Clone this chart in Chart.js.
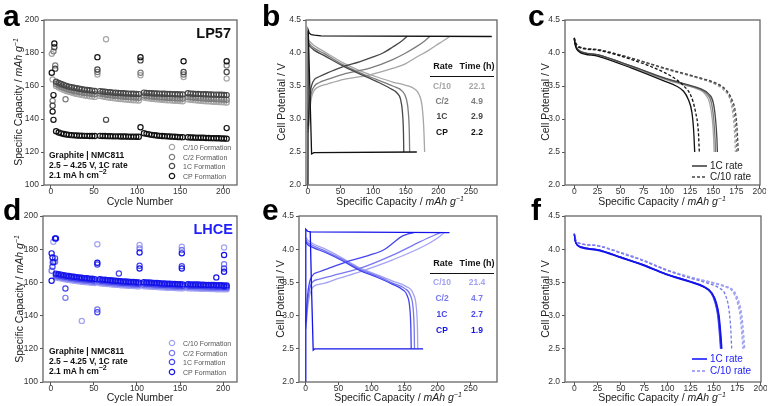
<!DOCTYPE html>
<html>
<head>
<meta charset="utf-8">
<script src="https://cdn.jsdelivr.net/npm/chart.js@4.4.1/dist/chart.umd.min.js"></script>
<style>
body { margin: 0; background: #fff; font-family: "Liberation Sans", Arial, sans-serif; }
#fig { position: relative; width: 770px; height: 406px; overflow: hidden; }
.pane { position: absolute; }
.t { position: absolute; white-space: nowrap; color: #222; line-height: 1; }
.yt { transform: translate(-50%, -50%) rotate(-90deg); font-size: 10.5px; }
.xt { transform: translate(-50%, -50%); font-size: 10.5px; }
.t sup { font-size: 7px; vertical-align: 4px; line-height: 0; }
.lab { font-weight: bold; font-size: 30px; color: #000; }
.ann { font-weight: bold; font-size: 8.5px; color: #111; transform: translateY(-50%); }
.leg { font-size: 7px; color: #555; transform: translateY(-50%); }
.big { font-weight: bold; font-size: 14.5px; transform: translate(-100%, -50%); }
.tb { font-weight: bold; font-size: 8.5px; transform: translate(-50%, -50%); }
.rl { font-size: 10px; color: #333; transform: translateY(-50%); }
.rule { position: absolute; height: 0; border-top: 1.5px solid #111; }
svg.mk { position: absolute; overflow: visible; }
</style>
</head>
<body>
<div id="fig">
  <div class="pane" id="pa"></div>
  <div class="pane" id="pb"></div>
  <div class="pane" id="pc"></div>
  <div class="pane" id="pd"></div>
  <div class="pane" id="pe"></div>
  <div class="pane" id="pf"></div>
  <div id="over"></div>
</div>
<script>
// ---- panel a / d : cycling data (cycle number vs capacity) ----
var bandCycles = [6,9,12,15,18,21,24,27,30,33,36,39,42,45,48,51,
  57,60,63,66,69,72,75,78,81,84,87,90,93,96,99,102,
  108,111,114,117,120,123,126,129,132,135,138,141,144,147,150,153,
  159,162,165,168,171,174,177,180,183,186,189,192,195,198,201,204];

var lp1CBand = [162.6,161.9,161.2,160.6,160.1,159.6,159.2,158.9,158.6,158.3,158.0,157.8,157.6,157.4,157.2,157.0,
  156.9,156.7,156.5,156.3,156.2,156.0,155.9,155.8,155.7,155.6,155.5,155.4,155.3,155.3,155.2,155.1,
  156.0,155.8,155.7,155.6,155.5,155.5,155.4,155.3,155.3,155.2,155.2,155.1,155.0,155.0,154.9,154.9,
  155.6,155.4,155.3,155.2,155.2,155.1,155.0,155.0,154.9,154.9,154.8,154.8,154.7,154.7,154.6,154.5];
var lpC2Band = [161.2,160.4,159.6,158.9,158.3,157.8,157.4,157.0,156.7,156.4,156.1,155.8,155.6,155.4,155.2,155.0,
  155.4,155.1,154.8,154.6,154.4,154.2,154.0,153.9,153.7,153.6,153.4,153.3,153.2,153.1,153.0,152.9,
  154.2,154.0,153.8,153.6,153.5,153.3,153.2,153.1,153.0,152.9,152.8,152.7,152.6,152.5,152.5,152.4,
  153.4,153.2,153.0,152.9,152.7,152.6,152.5,152.4,152.3,152.2,152.1,152.0,151.9,151.8,151.8,151.7];
var lpC10Band = [160.0,159.1,158.3,157.6,157.0,156.5,156.0,155.6,155.2,154.9,154.6,154.3,154.0,153.8,153.6,153.4,
  154.0,153.7,153.4,153.1,152.9,152.7,152.5,152.3,152.1,151.9,151.8,151.6,151.5,151.4,151.3,151.2,
  153.0,152.7,152.5,152.3,152.1,151.9,151.8,151.6,151.5,151.4,151.3,151.2,151.1,151.0,150.9,150.8,
  151.9,151.7,151.5,151.3,151.2,151.0,150.9,150.8,150.7,150.6,150.5,150.4,150.3,150.2,150.1,150.0];
var lpCPBand = [132.6,131.8,131.3,130.9,130.6,130.4,130.2,130.1,130.0,129.9,129.9,129.8,129.8,129.7,129.7,129.7,
  129.8,129.7,129.7,129.6,129.6,129.5,129.5,129.5,129.4,129.4,129.4,129.3,129.3,129.3,129.2,129.2,
  131.4,131.0,130.7,130.4,130.2,130.0,129.8,129.7,129.6,129.5,129.4,129.3,129.2,129.1,129.0,129.0,
  128.9,128.8,128.8,128.7,128.7,128.6,128.6,128.5,128.5,128.4,128.4,128.3,128.3,128.2,128.2,128.1];

var lpC10Extra = [[1,179.5],[2,164],[64,188.3],[54,167],[104,166.5],[154,165.5],[204,164.5]];
var lpC2Extra = [[3,181],[5,172.5],[2,151],[17,152],[54,168.5],[104,168],[154,167],[204,172.5]];
var lp1CExtra = [[4,183.5],[5,170.5],[2,148],[54,170],[64,139.5],[104,175.5],[154,168.5],[204,168.5]];
var lpCPExtra = [[1,168],[4,185.8],[2,144.5],[3,154.5],[3,139.5],[54,177.5],[104,177.5],[104,135],[154,175],[204,175],[204,134.5]];

var lhCPBand = [165.3,165.0,164.7,164.4,164.1,163.9,163.6,163.4,163.2,163.0,162.8,162.6,162.5,162.3,162.2,162.0,
  161.9,161.7,161.6,161.4,161.3,161.1,161.0,160.9,160.7,160.6,160.5,160.4,160.3,160.2,160.1,160.0,
  160.1,160.0,159.9,159.8,159.7,159.6,159.5,159.4,159.3,159.2,159.2,159.1,159.0,158.9,158.9,158.8,
  158.9,158.8,158.8,158.7,158.7,158.6,158.6,158.5,158.5,158.4,158.4,158.3,158.3,158.3,158.2,158.2];
var lh1CBand = [164.6,164.2,163.9,163.6,163.3,163.1,162.8,162.6,162.4,162.2,162.0,161.8,161.7,161.5,161.4,161.2,
  161.1,160.9,160.8,160.6,160.5,160.3,160.2,160.1,159.9,159.8,159.7,159.6,159.5,159.4,159.3,159.2,
  159.3,159.2,159.1,159.0,158.9,158.8,158.7,158.6,158.5,158.4,158.4,158.3,158.2,158.1,158.1,158.0,
  158.1,158.0,158.0,157.9,157.9,157.8,157.8,157.7,157.7,157.6,157.6,157.5,157.5,157.5,157.4,157.4];
var lhC2Band = [163.7,163.4,163.1,162.8,162.5,162.3,162.0,161.8,161.6,161.4,161.2,161.0,160.9,160.7,160.6,160.4,
  160.3,160.1,160.0,159.8,159.7,159.5,159.4,159.3,159.1,159.0,158.9,158.8,158.7,158.6,158.5,158.4,
  158.5,158.4,158.3,158.2,158.1,158.0,157.9,157.8,157.7,157.6,157.6,157.5,157.4,157.3,157.3,157.2,
  157.3,157.2,157.2,157.1,157.1,157.0,157.0,156.9,156.9,156.8,156.8,156.7,156.7,156.7,156.6,156.6];
var lhC10Band = [162.9,162.6,162.3,162.0,161.7,161.5,161.2,161.0,160.8,160.6,160.4,160.2,160.1,159.9,159.8,159.6,
  159.5,159.3,159.2,159.0,158.9,158.7,158.6,158.5,158.3,158.2,158.1,158.0,157.9,157.8,157.7,157.6,
  157.7,157.6,157.5,157.4,157.3,157.2,157.1,157.0,156.9,156.8,156.8,156.7,156.6,156.5,156.5,156.4,
  156.5,156.4,156.4,156.3,156.3,156.2,156.2,156.1,156.1,156.0,156.0,155.9,155.9,155.9,155.8,155.8];

var lhC10Extra = [[3,184.5],[2,172],[36,136.8],[54,183],[103,182.5],[152,181.5],[201,181]];
var lhC2Extra = [[1,167],[5,172.5],[17,150.7],[54,143.7],[103,180.5],[152,179.5],[201,171]];
var lh1CExtra = [[2,169.4],[5,174.5],[17,156.3],[54,170.8],[54,142],[79,165.4],[103,170],[152,169.8],[201,168.4]];
var lhCPExtra = [[1,177.5],[2,175],[3,172.2],[1,161],[5,186.5],[6,186.5],[54,171.8],[103,178],[103,168.4],
  [152,177.5],[152,168.4],[192,163],[201,176.5],[201,166.4],[201,157.7]];

// ---- panel b / e : formation voltage curves [capacity, V] ----
var bChgC10 = [[0.5,2.8],[3,3.15],[6,3.35],[10,3.44],[17,3.49],[30,3.53],[55,3.6],[95,3.67],[131,3.77],[150,3.84],[167,3.94],[185,4.04],[202,4.15],[213,4.22],[217,4.25]];
var bChgC2 = [[0.5,2.85],[3,3.25],[6,3.42],[10,3.5],[17,3.55],[30,3.6],[55,3.68],[95,3.77],[130,3.9],[150,4.0],[167,4.1],[180,4.19],[187,4.25]];
var bChg1C = [[0.5,2.9],[3,3.35],[6,3.52],[10,3.6],[17,3.64],[30,3.7],[50,3.78],[80,3.87],[100,3.94],[115,4.0],[130,4.09],[145,4.19],[152,4.25]];
var bChgCP = [[0,2.0],[0.3,4.35],[2,4.3],[5,4.28],[10,4.27],[20,4.26],[282,4.25]];
var bDisC10 = [[0.5,4.21],[3,4.17],[10,4.11],[25,4.02],[54,3.85],[80,3.73],[105,3.64],[130,3.56],[150,3.51],[163,3.46],[170,3.38],[175,3.2],[177.5,2.9],[179,2.5]];
var bDisC2 = [[0.5,4.17],[3,4.13],[10,4.07],[25,3.99],[54,3.82],[80,3.7],[105,3.6],[130,3.5],[145,3.42],[151,3.3],[154,3.1],[155.5,2.8],[156,2.5]];
var bDis1C = [[0.5,4.14],[3,4.1],[10,4.04],[25,3.96],[54,3.8],[80,3.68],[105,3.57],[125,3.47],[137,3.39],[142,3.3],[145,3.1],[146.5,2.8],[147,2.5]];
var bDisCP = [[0.5,4.33],[5.6,2.47],[9,2.49],[167,2.5]];

var eChgC10 = [[0.5,2.8],[3,3.1],[6,3.3],[12,3.44],[26,3.48],[50,3.56],[82,3.66],[132,3.84],[178,4.04],[200,4.17],[210,4.25]];
var eChgC2 = [[0.5,2.85],[3,3.2],[6,3.4],[10,3.5],[21,3.55],[40,3.6],[82,3.71],[132,3.91],[173,4.11],[195,4.21],[205,4.25]];
var eChg1C = [[0.5,2.9],[3,3.3],[6,3.5],[10,3.6],[21,3.66],[40,3.73],[62,3.81],[97,3.91],[120,4.0],[132,4.09],[147,4.2],[155,4.23],[164,4.25]];
var eChgCP = [[0,2.0],[0.3,4.3],[3,4.27],[7,4.26],[218,4.25]];
var eDisC10 = [[0.5,4.18],[3,4.14],[10,4.09],[30,4.0],[55,3.87],[82,3.72],[110,3.61],[132,3.52],[152,3.44],[163,3.33],[168,3.1],[169.5,2.8],[170,2.5]];
var eDisC2 = [[0.5,4.14],[3,4.1],[10,4.06],[30,3.97],[55,3.85],[82,3.7],[110,3.59],[132,3.49],[150,3.41],[159,3.3],[163,3.1],[164.5,2.8],[165,2.5]];
var eDis1C = [[0.5,4.11],[3,4.07],[10,4.03],[30,3.95],[55,3.83],[82,3.68],[110,3.57],[132,3.47],[147,3.39],[154,3.3],[158,3.1],[159.5,2.8],[160,2.5]];
var eDisCP = [[7,4.27],[9,3.4],[11.5,2.48],[14,2.5],[178,2.5]];

// ---- panel c / f : discharge at 1C (solid) and C/10 (dashed) ----
var cSolidC10 = [[0,4.22],[1,4.14],[3,4.07],[6,4.03],[26,3.97],[62,3.79],[98,3.6],[120,3.51],[134,3.45],[141,3.38],[146,3.25],[149,3.0],[150.5,2.7],[151,2.5]];
var cSolidC2 = [[0,4.22],[1,4.14],[3,4.07],[6,4.03],[26,3.97],[62,3.8],[98,3.61],[120,3.52],[134,3.46],[143,3.38],[148,3.25],[150.5,3.0],[152,2.7],[152.5,2.5]];
var cSolid1C = [[0,4.22],[1,4.14],[3,4.07],[6,4.03],[26,3.97],[62,3.8],[98,3.62],[120,3.53],[136,3.46],[145,3.38],[150,3.25],[152.5,3.0],[154,2.7],[154.5,2.5]];
var cSolidCP = [[0,4.21],[1,4.12],[3,4.05],[6,4.01],[26,3.95],[62,3.77],[98,3.57],[110,3.5],[118,3.42],[123,3.3],[127,3.1],[129,2.8],[130,2.5]];
var cDashC10 = [[0,4.23],[1,4.17],[3,4.12],[6,4.09],[26,4.05],[62,3.92],[98,3.76],[134,3.62],[150,3.54],[162,3.43],[168,3.3],[171,3.1],[173,2.8],[174,2.5]];
var cDashC2 = [[0,4.23],[1,4.17],[3,4.12],[6,4.09],[26,4.05],[62,3.92],[98,3.76],[134,3.62],[150,3.55],[163,3.44],[169,3.3],[172.5,3.1],[174.5,2.8],[175.5,2.5]];
var cDash1C = [[0,4.23],[1,4.17],[3,4.12],[6,4.09],[26,4.05],[62,3.92],[98,3.77],[134,3.63],[152,3.55],[164,3.44],[170,3.3],[174,3.1],[176,2.8],[177,2.5]];
var cDashCP = [[0,4.23],[1,4.16],[3,4.11],[6,4.08],[26,4.04],[62,3.9],[98,3.7],[110,3.6],[119,3.49],[126,3.35],[131,3.1],[134,2.8],[135,2.5]];

var fSolidC10 = [[0,4.23],[1,4.13],[3,4.07],[8,4.03],[26,3.99],[50,3.88],[73,3.77],[98,3.63],[123,3.52],[138,3.44],[147,3.34],[151,3.2],[154,3.0],[156,2.7],[157,2.5]];
var fSolidC2 = [[0,4.23],[1,4.13],[3,4.07],[8,4.03],[26,3.99],[50,3.88],[73,3.77],[98,3.63],[123,3.52],[138,3.44],[147,3.34],[151.5,3.2],[154.5,3.0],[156.5,2.7],[157.5,2.5]];
var fSolid1C = [[0,4.23],[1,4.13],[3,4.07],[8,4.03],[26,3.99],[50,3.88],[73,3.77],[98,3.63],[123,3.52],[139,3.44],[148,3.34],[152,3.2],[155,3.0],[157,2.7],[158,2.5]];
var fSolidCP = [[0,4.22],[1,4.12],[3,4.06],[8,4.02],[26,3.98],[50,3.87],[73,3.76],[98,3.62],[123,3.51],[139,3.43],[148,3.33],[152.5,3.2],[155.5,3.0],[157.5,2.7],[158.5,2.5]];
var fDashC10 = [[0,4.24],[1,4.16],[3,4.11],[8,4.08],[26,4.05],[50,3.95],[73,3.84],[98,3.69],[123,3.58],[145,3.5],[160,3.44],[170,3.36],[175,3.2],[178,3.0],[180,2.7],[181,2.5]];
var fDashC2 = [[0,4.24],[1,4.16],[3,4.11],[8,4.08],[26,4.05],[50,3.95],[73,3.84],[98,3.69],[123,3.58],[145,3.51],[160,3.45],[171,3.36],[176,3.2],[179,3.0],[181,2.7],[182,2.5]];
var fDash1C = [[0,4.24],[1,4.16],[3,4.11],[8,4.08],[26,4.05],[50,3.95],[73,3.84],[98,3.7],[123,3.59],[145,3.51],[161,3.45],[172,3.36],[177,3.2],[180,3.0],[182,2.7],[183,2.5]];
var fDashCP = [[0,4.24],[1,4.16],[3,4.11],[8,4.08],[26,4.05],[50,3.94],[73,3.83],[98,3.69],[123,3.57],[145,3.48],[155,3.42],[162,3.32],[166,3.1],[168,2.8],[169,2.5]];

// ---- ticks ----
var cycleTicks = [0, 50, 100, 150, 200];
var capTicks = [100, 120, 140, 160, 180, 200];
var capXTicks = [0, 50, 100, 150, 200, 250];
var disXTicks = [0, 25, 50, 75, 100, 125, 150, 175, 200];
var voltTicks = [2.0, 2.5, 3.0, 3.5, 4.0, 4.5];

var grayCols = { c10: '#a6a6a6', c2: '#7c7c7c', c1: '#474747', cp: '#111111' };
var blueCols = { c10: '#a3a3f4', c2: '#7878f0', c1: '#4444ee', cp: '#1414ea' };

var FONT = '"Liberation Sans", Arial, sans-serif';

function zip(xs, ys) {
    return xs.map(function (x, i) { return { x: x, y: ys[i] }; });
}
function pairs(arr) {
    return arr.map(function (p) { return { x: p[0], y: p[1] }; });
}

function pts(band, extra, color) {
    return {
        data: zip(bandCycles, band).concat(pairs(extra)),
        showLine: false,
        pointRadius: 2.6,
        pointBorderWidth: 1.2,
        pointBackgroundColor: 'rgba(0,0,0,0)',
        pointBorderColor: color,
        borderColor: color
    };
}
function curve(arr, color, dashed, straight) {
    return {
        data: pairs(arr),
        showLine: true,
        pointRadius: 0,
        borderColor: color,
        borderWidth: 1.3,
        borderDash: dashed ? [3, 2] : [],
        cubicInterpolationMode: straight ? 'default' : 'monotone',
        tension: 0
    };
}

var framePlugin = {
    id: 'frame',
    afterDraw: function (chart) {
        var a = chart.chartArea, ctx = chart.ctx;
        ctx.save();
        ctx.strokeStyle = '#666';
        ctx.lineWidth = 1.3;
        ctx.strokeRect(a.left, a.top, a.right - a.left, a.bottom - a.top);
        ctx.restore();
    }
};

function makeChart(id, box, xr, yr, xTicks, yTicks, yDec, datasets) {
    var PL = 44, PT = 8, PR = 6, PB = 16;
    var div = document.getElementById(id);
    div.style.left = (box[0] - PL) + 'px';
    div.style.top = (box[1] - PT) + 'px';
    div.style.width = (box[2] - box[0] + PL + PR) + 'px';
    div.style.height = (box[3] - box[1] + PT + PB) + 'px';
    var cv = document.createElement('canvas');
    div.appendChild(cv);
    var tickFont = { family: FONT, size: 8.5 };
    return new Chart(cv, {
        type: 'scatter',
        data: { datasets: datasets },
        plugins: [framePlugin],
        options: {
            responsive: true,
            maintainAspectRatio: false,
            animation: false,
            layout: { padding: { left: 0, top: PT, right: PR, bottom: 0 } },
            plugins: { legend: { display: false }, tooltip: { enabled: false } },
            scales: {
                x: {
                    type: 'linear', min: xr[0], max: xr[1],
                    afterBuildTicks: function (s) { s.ticks = xTicks.map(function (v) { return { value: v }; }); },
                    afterFit: function (s) { s.height = PB; },
                    ticks: { font: tickFont, color: '#333', padding: -1, maxRotation: 0, autoSkip: false },
                    grid: { drawOnChartArea: false, tickLength: 3, color: '#555' },
                    border: { display: false }
                },
                y: {
                    type: 'linear', min: yr[0], max: yr[1],
                    afterBuildTicks: function (s) { s.ticks = yTicks.map(function (v) { return { value: v }; }); },
                    afterFit: function (s) { s.width = PL; },
                    ticks: {
                        font: tickFont, color: '#333', padding: 2, autoSkip: false,
                        callback: function (v) { return Number(v).toFixed(yDec); }
                    },
                    grid: { drawOnChartArea: false, tickLength: 3, color: '#555' },
                    border: { display: false }
                }
            }
        }
    });
}

var g = grayCols, bl = blueCols;

makeChart('pa', [44, 20, 237, 185], [-8, 216], [100, 200], cycleTicks, capTicks, 0, [
    pts(lpCPBand, lpCPExtra, g.cp),
    pts(lp1CBand, lp1CExtra, g.c1),
    pts(lpC2Band, lpC2Extra, g.c2),
    pts(lpC10Band, lpC10Extra, g.c10)
]);
makeChart('pd', [43, 216, 237, 382], [-9, 216], [100, 200], cycleTicks, capTicks, 0, [
    pts(lhCPBand, lhCPExtra, bl.cp),
    pts(lh1CBand, lh1CExtra, bl.c1),
    pts(lhC2Band, lhC2Extra, bl.c2),
    pts(lhC10Band, lhC10Extra, bl.c10)
]);
makeChart('pb', [306, 20, 497, 185], [-3, 290], [2, 4.5], capXTicks, voltTicks, 1, [
    curve(bChgCP, g.cp, false, true),
    curve(bDisCP, g.cp, false, true),
    curve(bChg1C, g.c1), curve(bDis1C, g.c1),
    curve(bChgC2, g.c2), curve(bDisC2, g.c2),
    curve(bChgC10, g.c10), curve(bDisC10, g.c10)
]);
makeChart('pe', [299, 216, 497, 382], [-10, 290], [2, 4.5], capXTicks, voltTicks, 1, [
    curve(eChgCP, bl.cp, false, true),
    curve(eDisCP, bl.cp, false, true),
    curve(eChg1C, bl.c1), curve(eDis1C, bl.c1),
    curve(eChgC2, bl.c2), curve(eDisC2, bl.c2),
    curve(eChgC10, bl.c10), curve(eDisC10, bl.c10)
]);
makeChart('pc', [565, 20, 760, 185], [-10, 200.5], [2, 4.5], disXTicks, voltTicks, 1, [
    curve(cSolidCP, g.cp), curve(cDashCP, g.cp, true),
    curve(cSolid1C, g.c1), curve(cDash1C, g.c1, true),
    curve(cSolidC2, g.c2), curve(cDashC2, g.c2, true),
    curve(cSolidC10, g.c10), curve(cDashC10, g.c10, true)
]);
makeChart('pf', [565, 216, 761, 382], [-10, 200.5], [2, 4.5], disXTicks, voltTicks, 1, [
    curve(fSolidCP, bl.cp), curve(fDashCP, bl.c2, true),
    curve(fSolid1C, bl.cp), curve(fDash1C, bl.c10, true),
    curve(fSolidC2, bl.c1), curve(fDashC2, bl.c10, true),
    curve(fSolidC10, bl.c1), curve(fDashC10, bl.c10, true)
]);

// ---- text overlays ----
var capTitle = 'Specific Capacity / <i>mAh g</i><sup><i>−1</i></sup>';
var formationNames = ['C/10 Formation', 'C/2 Formation', '1C Formation', 'CP Formation'];
var rateRows = ['C/10', 'C/2', '1C', 'CP'];
var lpTimes = ['22.1', '4.9', '2.9', '2.2'];
var lhTimes = ['21.4', '4.7', '2.7', '1.9'];
var condLines = ['Graphite | NMC811', '2.5 – 4.25 V, 1C rate', '2.1 mA h cm<sup>−2</sup>'];

var html = [];
function add(cls, x, y, content, extra) {
    html.push('<div class="t ' + cls + '" style="left:' + x + 'px;top:' + y + 'px;' + (extra || '') + '">' + content + '</div>');
}

// panel letters
add('lab', 3, 1, 'a'); add('lab', 262, 1, 'b'); add('lab', 528, 1, 'c');
add('lab', 3, 195, 'd'); add('lab', 262, 195, 'e'); add('lab', 531, 195, 'f');

// axis titles
add('yt', 18, 102, capTitle); add('yt', 19, 299, capTitle);
add('yt', 281, 102, 'Cell Potential / V'); add('yt', 280, 299, 'Cell Potential / V');
add('yt', 545, 102, 'Cell Potential / V'); add('yt', 545, 299, 'Cell Potential / V');
add('xt', 140, 201, 'Cycle Number'); add('xt', 140, 397, 'Cycle Number');
add('xt', 400, 201, capTitle); add('xt', 398, 397, capTitle);
add('xt', 662, 201, capTitle); add('xt', 662, 397, capTitle);

// electrolyte labels
add('big', 231, 33, 'LP57', 'color:#111;');
add('big', 233, 229, 'LHCE', 'color:#1f1fff;');

// condition notes and formation legends
function notes(y0, cols, legY) {
    condLines.forEach(function (s, i) { add('ann', 49, y0 + i * 9.8, s); });
    var keys = ['c10', 'c2', 'c1', 'cp'];
    formationNames.forEach(function (s, i) {
        var y = legY[i];
        html.push('<svg class="mk" width="8" height="8" style="left:168px;top:' + (y - 4) + 'px">' +
            '<circle cx="4" cy="4" r="2.7" fill="none" stroke="' + cols[keys[i]] + '" stroke-width="1.2"/></svg>');
        add('leg', 183, y, s);
    });
}
notes(155, grayCols, [146.7, 156.5, 166.2, 176]);
notes(351, blueCols, [343, 352.7, 362.3, 371.8]);

// rate / time tables
function table(yHead, yLine, rowY, times, cols) {
    var keys = ['c10', 'c2', 'c1', 'cp'];
    add('tb', 443, yHead, 'Rate', 'color:#111;font-size:9px;');
    add('tb', 477, yHead, 'Time (h)', 'color:#111;font-size:9px;');
    html.push('<div class="rule" style="left:430px;width:64px;top:' + yLine + 'px"></div>');
    rateRows.forEach(function (r, i) {
        var c = 'color:' + cols[keys[i]] + ';';
        add('tb', 442, rowY[i], r, c);
        add('tb', 477, rowY[i], times[i], c);
    });
}
table(66, 76, [86, 101, 116, 132], lpTimes, grayCols);
table(263, 273, [282, 298, 314, 330], lhTimes, blueCols);

// rate legends (c, f)
function rateLegend(y1, y2, solidCol, dashCol, textCol) {
    html.push('<svg class="mk" width="16" height="4" style="left:692px;top:' + (y1 - 2) + 'px"><line x1="0" y1="2" x2="15" y2="2" stroke="' + solidCol + '" stroke-width="1.6"/></svg>');
    html.push('<svg class="mk" width="16" height="4" style="left:692px;top:' + (y2 - 2) + 'px"><line x1="0" y1="2" x2="15" y2="2" stroke="' + dashCol + '" stroke-width="1.3" stroke-dasharray="3,2"/></svg>');
    add('rl', 710, y1, '1C rate', 'color:' + textCol + ';');
    add('rl', 710, y2, 'C/10 rate', 'color:' + textCol + ';');
}
rateLegend(165.7, 176.7, '#444', '#444', '#222');
rateLegend(359.3, 370.7, '#1a1aff', '#8c8cf5', '#2222ff');

document.getElementById('over').innerHTML = html.join('');
</script>
</body>
</html>
